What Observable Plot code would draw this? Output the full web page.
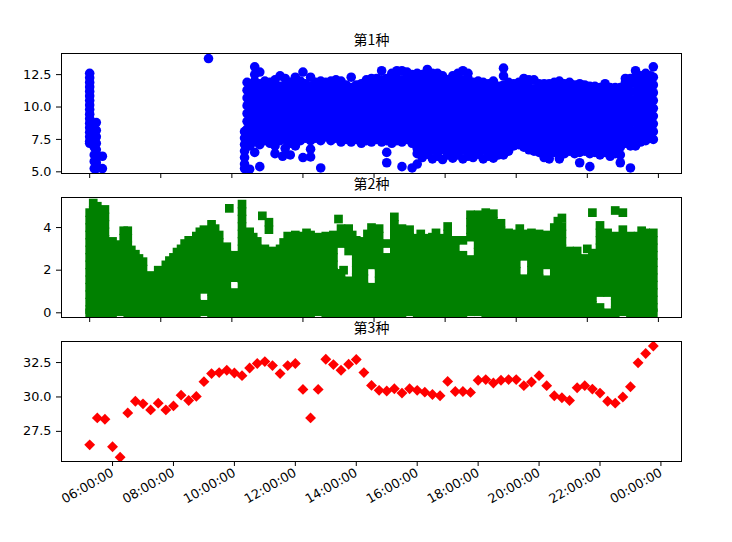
<!DOCTYPE html>
<html><head><meta charset="utf-8">
<script src="https://cdn.jsdelivr.net/npm/d3@7"></script>
<script src="https://cdn.jsdelivr.net/npm/@observablehq/plot@0.6"></script>
<style>
body{margin:0;background:#fff;}
#chart{position:relative;width:732px;height:542px;overflow:hidden;background:#fff;}
#chart svg{position:absolute;left:0;top:0;}
</style></head><body><div id="chart"></div>
<script>
const titles = ["第1种", "第2种", "第3种"];
const xDomainTimes = ["04:19:30", "24:40:30"];
const bottomTickTimes = ["06:00","08:00","10:00","12:00","14:00","16:00","18:00","20:00","22:00","24:00"];
const topTickTimes = ["05:15","07:35","09:55","12:15","14:35","16:55","19:15","21:35","23:55"];
const blueTicks = [5.0, 7.5, 10.0, 12.5];
const greenTicks = [0, 2, 4];
const redTicks = [27.5, 30.0, 32.5];
const blueDomain = [4.87, 14.13];
const greenDomain = [-0.22, 5.41];
const redDomain = [25.31, 34.03];

// 第1种: each row = time followed by the readings seen at that time
const blueRows = [
"05:15 12.6 12.25 11.9 11.55 11.2 10.85 10.5 10.15 9.8 9.45 9.1 8.75 8.4 8.05 7.7 7.35 7.2",
"05:24 7.5 6.9 6.3 5.8 5.25",
"05:28 8.8 8.2 7.7 7.2 6.7 6.2 5.7 5.25",
"05:40 6.2 5.25",
"09:09 13.74",
"10:20 8.1 7.6 7.1 6.6 6.1 5.6 5.25",
"10:25 11.9 11.3 10.7 10.1 9.5 8.9 8.3 7.8",
"10:30 11.8 11.25 10.6 10.0 9.45 8.8 8.2 7.6 7.0 5.2",
"10:40 13.1 12.5 12.0 11.4 10.85 10.3 9.7 9.1 8.5 7.9 7.3 6.5",
"10:50 12.7 11.8 11.3 10.7 10.1 9.5 8.9 8.3 7.7 7.1 5.4",
"11:00 12.0 11.55 11.0 10.4 9.8 9.2 8.6 8.0 7.4",
"11:10 11.9 11.4 10.8 10.2 9.6 9.0 8.4 7.8 7.2",
"11:20 12.1 11.7 11.1 10.5 9.9 9.3 8.7 8.1 7.5 7.0 6.4",
"11:30 12.4 11.6 11.0 10.4 9.8 9.2 8.6 8.0 7.4",
"11:35 6.2",
"11:40 12.2 11.7 11.1 10.5 9.9 9.3 8.7 8.1 7.5 6.8",
"11:50 11.9 11.4 10.8 10.2 9.6 9.0 8.4 7.8 7.2 6.3",
"12:00 12.3 11.8 11.2 10.6 10.0 9.4 8.8 8.2 7.6 7.0",
"12:10 12.0 11.6 11.0 10.4 9.8 9.2 8.6 8.0 7.4",
"12:15 12.7 6.1",
"12:20 11.8 11.2 10.6 10.0 9.4 8.8 8.2 7.6",
"12:30 12.3 11.6 11.0 10.4 9.8 9.2 8.6 8.0 7.4 6.75 6.15",
"12:40 11.9 11.2 10.6 10.0 9.4 8.8 8.2 7.6",
"12:50 12.0 11.6 11.0 10.4 9.8 9.2 8.6 8.0 7.4 5.3",
"13:00 11.9 11.3 10.7 10.1 9.5 8.9 8.3 7.7",
"13:10 12.0 11.6 11.0 10.4 9.8 9.2 8.6 8.0 7.4",
"13:20 12.1 11.8 11.2 10.6 10.0 9.4 8.8 8.2 7.6",
"13:30 12.0 11.5 10.9 10.3 9.7 9.1 8.5 7.9 7.3",
"13:40 11.7 11.1 10.5 9.9 9.3 8.7 8.1 7.5",
"13:50 12.3 11.5 10.9 10.3 9.7 9.1 8.5 7.9 7.3",
"14:00 11.7 11.1 10.5 9.9 9.3 8.7 8.1 7.5",
"14:10 11.8 11.4 10.8 10.2 9.6 9.0 8.4 7.8 7.2",
"14:20 12.1 11.6 11.0 10.4 9.8 9.2 8.6 8.0 7.4",
"14:30 12.2 11.5 10.9 10.3 9.7 9.1 8.5 7.9 7.3",
"14:40 12.2 11.7 11.1 10.5 9.9 9.3 8.7 8.1 7.5",
"14:50 12.8 12.1 11.5 10.9 10.3 9.7 9.1 8.5 7.9 7.3",
"15:00 12.2 11.6 11.0 10.4 9.8 9.2 8.6 8.0 7.4 6.5 5.7",
"15:10 12.6 12.0 11.4 10.8 10.2 9.6 9.0 8.4 7.8 7.2",
"15:20 12.8 12.2 11.6 11.0 10.4 9.8 9.2 8.6 8.0 7.4",
"15:30 12.8 12.1 11.5 10.9 10.3 9.7 9.1 8.5 7.9 7.3 5.4",
"15:40 12.7 12.3 11.7 11.1 10.5 9.9 9.3 8.7 8.1 7.5",
"15:50 12.5 12.0 11.4 10.8 10.2 9.6 9.0 8.4 7.8 7.2 5.3",
"16:00 12.6 12.2 11.6 11.0 10.4 9.8 9.2 8.6 8.0 7.4 6.8 6.4 5.6",
"16:10 12.5 12.1 11.5 10.9 10.3 9.7 9.1 8.5 7.9 7.3 6.7 6.1",
"16:20 12.9 12.2 11.6 11.0 10.4 9.8 9.2 8.6 8.0 7.4 6.8 6.35",
"16:30 12.6 12.1 11.5 10.9 10.3 9.7 9.1 8.5 7.9 7.3 6.7 6.0",
"16:40 12.6 12.2 11.6 11.0 10.4 9.8 9.2 8.6 8.0 7.4 6.8 6.2",
"16:50 12.4 12.0 11.5 10.9 10.3 9.7 9.1 8.5 7.9 7.3 6.7 5.95",
"17:00 12.1 11.6 11.0 10.4 9.8 9.2 8.6 8.0 7.4 6.8 6.3",
"17:10 12.4 12.0 11.5 10.9 10.3 9.7 9.1 8.5 7.9 7.3 6.7 6.05",
"17:20 12.6 12.2 11.6 11.0 10.4 9.8 9.2 8.6 8.0 7.4 6.8 6.3",
"17:30 12.8 12.1 11.5 10.9 10.3 9.7 9.1 8.5 7.9 7.3 6.7 6.0",
"17:40 12.6 12.2 11.6 11.0 10.4 9.8 9.2 8.6 8.0 7.4 6.8 6.2",
"17:50 11.9 11.5 10.9 10.3 9.7 9.1 8.5 7.9 7.3 6.7 6.1",
"18:00 12.0 11.6 11.0 10.4 9.8 9.2 8.6 8.0 7.4 6.8 6.35",
"18:10 11.9 11.5 10.9 10.3 9.7 9.1 8.5 7.9 7.3 6.7 6.0",
"18:20 11.8 11.4 11.0 10.4 9.8 9.2 8.6 8.0 7.4 6.8 6.2",
"18:30 12.0 11.5 10.9 10.3 9.7 9.1 8.5 7.9 7.3 6.7 6.05",
"18:40 11.6 11.0 10.4 9.8 9.2 8.6 8.0 7.4 6.8 6.3",
"18:50 13.0 12.4 11.7 11.1 10.5 9.9 9.3 8.7 8.1 7.5 6.9 6.3",
"19:00 11.9 11.4 10.8 10.2 9.6 9.0 8.4 7.8 7.2 6.6",
"19:10 11.8 11.2 10.6 10.0 9.4 8.8 8.2 7.6 7.0",
"19:20 11.9 11.3 10.7 10.1 9.5 8.9 8.3 7.7 7.1",
"19:30 12.2 11.7 11.1 10.5 9.9 9.3 8.7 8.1 7.5 6.9",
"19:40 12.1 11.5 10.9 10.3 9.7 9.1 8.5 7.9 7.3 6.7",
"19:50 12.1 11.4 10.8 10.2 9.6 9.0 8.4 7.8 7.2 6.6",
"20:00 11.8 11.3 10.7 10.1 9.5 8.9 8.3 7.7 7.1 6.5",
"20:10 11.8 11.5 10.9 10.3 9.7 9.1 8.5 7.9 7.3 6.7 6.1",
"20:20 11.8 11.4 10.8 10.2 9.6 9.0 8.4 7.8 7.2 6.6 6.0",
"20:30 11.9 11.3 10.7 10.1 9.5 8.9 8.3 7.7 7.1 6.5",
"20:40 12.0 11.4 10.8 10.2 9.6 9.0 8.4 7.8 7.2 6.6 6.0",
"20:50 11.8 11.2 10.6 10.0 9.4 8.8 8.2 7.6 7.0 6.4",
"21:00 11.9 11.4 10.8 10.2 9.6 9.0 8.4 7.8 7.2 6.6",
"21:10 11.7 11.2 10.6 10.0 9.4 8.8 8.2 7.6 7.0 6.4",
"21:20 11.8 11.3 10.7 10.1 9.5 8.9 8.3 7.7 7.1 6.5 5.7",
"21:30 11.7 11.4 10.8 10.2 9.6 9.0 8.4 7.8 7.2 6.6",
"21:40 11.6 11.2 10.6 10.0 9.4 8.8 8.2 7.6 7.0 6.4 5.4",
"21:50 11.6 11.3 10.7 10.1 9.5 8.9 8.3 7.7 7.1 6.5",
"22:00 11.5 11.1 10.5 9.9 9.3 8.7 8.1 7.5 6.9 6.3",
"22:10 11.8 11.3 10.7 10.1 9.5 8.9 8.3 7.7 7.1 6.5",
"22:20 11.5 11.0 10.4 9.8 9.2 8.6 8.0 7.4 6.8 6.2",
"22:30 11.5 11.2 10.6 10.0 9.4 8.8 8.2 7.6 7.0 6.4",
"22:40 11.5 11.1 10.5 9.9 9.3 8.7 8.1 7.5 6.9 6.3 5.7",
"22:50 12.2 11.9 11.4 10.8 10.2 9.6 9.0 8.4 7.8 7.2",
"23:00 12.2 11.8 11.2 10.6 10.0 9.4 8.8 8.2 7.6 7.0 5.3",
"23:10 12.8 12.3 11.8 11.2 10.6 10.0 9.4 8.8 8.2 7.6 7.0",
"23:20 12.4 12.1 11.5 10.9 10.3 9.7 9.1 8.5 7.9 7.3",
"23:30 12.6 12.2 11.6 11.0 10.4 9.8 9.2 8.6 8.0 7.4",
"23:40 12.4 11.8 11.2 10.6 10.0 9.4 8.8 8.2 7.6",
"23:45 13.1 12.3 11.7 11.1 10.5 9.9 9.3 8.7 8.1 7.5"
];

// 第2种
const greenRows = [
"05:15 4.7 4.35 4.0 3.65 3.3 2.95 2.6 2.25 1.9 1.55 1.2 0.85 0.5 0.15 0.0",
"05:22 5.15 4.8 4.45 4.1 3.75 3.4 3.05 2.7 2.35 2.0 1.65 1.3 0.95 0.6 0.25 0.0",
"05:30 5.0 4.65 4.3 3.95 3.6 3.25 2.9 2.55 2.2 1.85 1.5 1.15 0.8 0.45 0.1 0.0",
"05:45 4.85 4.5 4.15 3.8 3.45 3.1 2.75 2.4 2.05 1.7 1.35 1.0 0.65 0.3 0.0",
"06:00 3.35 3.0 2.65 2.3 1.95 1.6 1.25 0.9 0.55 0.2 0.0",
"06:07 3.1 2.75",
"06:15 3.2 2.85 2.5 2.15 1.8 1.45 1.1 0.75 0.4 0.05",
"06:22 3.85 3.5",
"06:30 3.85 3.5 3.15 2.8 2.45 2.1 1.75 1.4 1.05 0.7 0.35 0.0",
"06:37 2.95 2.6",
"06:45 2.75 2.4 2.05 1.7 1.35 1.0 0.65 0.3 0.0",
"06:52 2.55",
"07:00 2.4 2.05 1.7 1.35 1.0 0.65 0.3 0.0",
"07:15 1.75 1.4 1.05 0.7 0.35 0.0",
"07:30 2.0 1.65 1.3 0.95 0.6 0.25 0.0",
"07:45 2.25 1.9 1.55 1.2 0.85 0.5 0.15 0.0",
"07:52 2.45",
"08:00 2.6 2.25 1.9 1.55 1.2 0.85 0.5 0.15 0.0",
"08:07 2.85",
"08:15 3.0 2.65 2.3 1.95 1.6 1.25 0.9 0.55 0.2 0.0",
"08:22 3.25",
"08:30 3.4 3.05 2.7 2.35 2.0 1.65 1.3 0.95 0.6 0.25 0.0",
"08:45 3.6 3.25 2.9 2.55 2.2 1.85 1.5 1.15 0.8 0.45 0.1 0.0",
"08:52 3.8",
"09:00 3.9 3.55 3.2 2.85 2.5 2.15 1.8 1.45 1.1 0.4 0.05",
"09:15 4.15 3.8 3.45 3.1 2.75 2.4 2.05 1.7 1.35 1.0 0.65 0.3 0.0",
"09:22 3.95",
"09:30 3.65 3.3 2.95 2.6 2.25 1.9 1.55 1.2 0.85 0.5 0.15 0.0",
"09:45 3.1 2.75 2.4 2.05 1.7 1.35 1.0 0.65 0.3 0.0",
"09:50 4.9",
"10:00 2.7 2.35 2.0 1.65 0.95 0.6 0.25 0.0",
"10:15 5.1 4.75 4.4 4.05 3.7 3.35 3.0 2.65 2.3 1.95 1.6 1.25 0.9 0.55 0.2 0.0",
"10:22 3.6 3.25",
"10:30 3.8 3.45 3.1 2.75 2.4 2.05 1.7 1.35 1.0 0.65 0.3 0.0",
"10:37 3.55",
"10:45 3.35 3.0 2.65 2.3 1.95 1.6 1.25 0.9 0.55 0.2 0.0",
"10:55 4.55",
"11:00 3.0 2.65 2.3 1.95 1.6 1.25 0.9 0.55 0.2 0.0",
"11:08 4.25 3.9",
"11:15 2.9 2.55 2.2 1.85 1.5 1.15 0.8 0.45 0.1 0.0",
"11:30 3.0 2.65 2.3 1.95 1.6 1.25 0.9 0.55 0.2 0.0",
"11:37 3.3",
"11:45 3.6 3.25 2.9 2.55 2.2 1.85 1.5 1.15 0.8 0.45 0.1 0.0",
"12:00 3.65 3.3 2.95 2.6 2.25 1.9 1.55 1.2 0.85 0.5 0.15 0.0",
"12:15 3.6 3.25 2.9 2.55 2.2 1.85 1.5 1.15 0.8 0.45 0.1 0.0",
"12:22 3.75",
"12:30 3.65 3.3 2.95 2.6 2.25 1.9 1.55 1.2 0.85 0.5 0.15 0.0",
"12:45 3.55 3.2 2.85 2.5 2.15 1.8 1.45 1.1 0.75 0.4 0.05",
"13:00 3.6 3.25 2.9 2.55 2.2 1.85 1.5 1.15 0.8 0.45 0.1 0.0",
"13:15 3.65 3.3 2.95 2.6 2.25 1.9 1.55 1.2 0.85 0.5 0.15 0.0",
"13:25 4.4",
"13:30 3.95 3.6 3.25 1.85 1.5 1.15 0.8 0.45 0.1 0.0",
"13:35 2.0",
"13:45 3.95 3.6 3.25 2.9 1.5 1.15 0.8 0.45 0.1 0.0",
"13:52 3.65",
"14:00 3.4 3.05 2.7 2.35 2.0 1.65 1.3 0.95 0.6 0.25 0.0",
"14:15 3.35 3.0 2.65 2.3 1.95 1.6 1.25 0.9 0.55 0.2 0.0",
"14:22 3.7",
"14:30 4.0 3.65 3.3 2.95 2.6 2.25 1.2 0.85 0.5 0.15 0.0",
"14:45 3.95 3.6 3.25 2.9 2.55 2.2 1.85 1.5 1.15 0.8 0.45 0.1 0.0",
"15:00 3.25 2.6 2.25 1.9 1.55 1.2 0.85 0.5 0.15 0.0",
"15:15 4.5 4.15 3.8 3.45 3.1 2.75 2.4 2.05 1.7 1.35 1.0 0.65 0.3 0.0",
"15:30 3.95 3.6 3.25 2.9 2.55 2.2 1.85 1.5 1.15 0.8 0.45 0.1 0.0",
"15:45 3.9 3.55 3.2 2.85 2.5 2.15 1.8 1.45 1.1 0.75 0.4 0.05",
"16:00 3.5 3.15 2.8 2.45 2.1 1.75 1.4 1.05 0.7 0.35 0.0",
"16:07 3.7",
"16:15 3.5 3.15 2.8 2.45 2.1 1.75 1.4 1.05 0.7 0.35 0.0",
"16:30 3.55 3.2 2.85 2.5 2.15 1.8 1.45 1.1 0.75 0.4 0.05 0.0",
"16:37 3.75",
"16:45 3.5 3.15 2.8 2.45 2.1 1.75 1.4 1.05 0.7 0.35 0.0",
"17:00 4.05 3.7 3.35 3.0 2.65 2.3 1.95 1.6 1.25 0.9 0.55 0.2 0.0",
"17:15 3.4 3.05 2.7 2.35 2.0 1.65 1.3 0.95 0.6 0.25 0.0",
"17:30 3.4 2.7 2.35 2.0 1.65 1.3 0.95 0.6 0.25 0.0",
"17:45 4.6 4.25 3.9 3.55 2.5 2.15 1.8 1.45 1.1 0.75 0.4 0.05",
"18:00 4.6 4.25 3.9 3.55 3.2 2.85 2.5 2.15 1.8 1.45 1.1 0.75 0.4 0.05",
"18:15 4.7 4.35 4.0 3.65 3.3 2.95 2.6 2.25 1.9 1.55 1.2 0.85 0.5 0.15 0.0",
"18:30 4.65 4.3 3.95 3.6 3.25 2.9 2.55 2.2 1.85 1.5 1.15 0.8 0.45 0.1 0.0",
"18:45 4.2 3.85 3.5 3.15 2.8 2.45 2.1 1.75 1.4 1.05 0.7 0.35 0.0",
"19:00 3.75 3.4 3.05 2.7 2.35 2.0 1.65 1.3 0.95 0.6 0.25 0.0",
"19:15 3.7 3.35 3.0 2.65 2.3 1.95 1.6 1.25 0.9 0.55 0.2 0.0",
"19:22 3.95",
"19:30 3.7 3.35 3.0 2.65 1.6 1.25 0.9 0.55 0.2 0.0",
"19:45 3.75 3.4 3.05 2.7 2.35 2.0 1.65 1.3 0.95 0.6 0.25 0.0",
"19:52 3.5",
"20:00 3.7 3.35 3.0 2.65 2.3 1.95 1.6 1.25 0.9 0.55 0.2 0.0",
"20:15 3.65 3.3 2.95 2.6 2.25 1.55 1.2 0.85 0.5 0.15 0.0",
"20:30 4.0 3.65 3.3 2.95 2.6 2.25 1.9 1.55 1.2 0.85 0.5 0.15 0.0",
"20:37 4.3",
"20:45 4.45 4.05 3.7 3.35 3.0 2.65 2.3 1.95 1.6 1.25 0.9 0.55 0.2 0.0",
"21:00 2.9 2.55 2.2 1.85 1.5 1.15 0.8 0.45 0.1 0.0",
"21:15 2.9 2.55 2.2 1.85 1.5 1.15 0.8 0.45 0.1 0.0",
"21:30 2.55 2.2 1.85 1.5 1.15 0.8 0.45 0.1 0.0",
"21:35 3.0",
"21:45 4.7 2.8 2.45 2.1 1.75 1.4 1.05 0.7 0.35 0.0",
"22:00 4.1 3.75 3.4 3.05 2.7 2.35 2.0 1.65 1.3 0.95 0.25 0.0",
"22:15 3.75 3.4 3.05 2.7 2.35 2.0 1.65 1.3 0.95 0.0",
"22:30 4.8 3.6 3.25 2.9 2.55 2.2 1.85 1.5 1.15 0.8 0.45 0.1 0.0",
"22:45 4.7 3.9 3.55 3.2 2.85 2.5 2.15 1.8 1.45 1.1 0.75 0.4 0.05",
"23:00 3.6 3.25 2.9 2.55 2.2 1.85 1.5 1.15 0.8 0.45 0.1 0.0",
"23:15 3.6 3.25 2.9 2.55 2.2 1.85 1.5 1.15 0.8 0.45 0.1 0.0",
"23:22 3.85",
"23:30 3.75 3.4 3.05 2.7 2.35 2.0 1.65 1.3 0.95 0.6 0.25 0.0",
"23:45 3.75 3.4 3.05 2.7 2.35 2.0 1.65 1.3 0.95 0.6 0.25 0.0"
];

// 第3种: one reading every 15 minutes from 05:15 to 23:45
const redStart = "05:15";
const redStepMinutes = 15;
const redValues = [26.52, 28.48, 28.38, 26.38, 25.62, 28.84, 29.69, 29.5, 29.06, 29.55,
  29.06, 29.35, 30.13, 29.74, 30.04, 31.11, 31.7, 31.77, 31.94, 31.74,
  31.55, 32.1, 32.43, 32.57, 32.28, 31.7, 32.28, 32.43, 30.55, 28.48,
  30.55, 32.74, 32.35, 31.94, 32.38, 32.72, 31.77, 30.84, 30.48, 30.43,
  30.6, 30.28, 30.6, 30.48, 30.35, 30.18, 30.09, 31.13, 30.4, 30.4,
  30.33, 31.21, 31.26, 31.01, 31.21, 31.26, 31.26, 30.82, 31.09, 31.55,
  30.82, 30.09, 29.94, 29.74, 30.67, 30.82, 30.57, 30.28, 29.69, 29.55,
  30.0, 30.74, 32.48, 33.16, 33.7];

const parseT = s => { const [h, m, sec = 0] = s.split(":").map(Number); return new Date(Date.UTC(2019, 0, 1, h, m, sec)); };
function rowsToPoints(rows) {
  const pts = [];
  for (const r of rows) {
    const [t, ...vs] = r.trim().split(/\s+/);
    const d = parseT(t);
    for (const v of vs) pts.push({t: d, v: +v});
  }
  return pts;
}
const blueData = rowsToPoints(blueRows);
const greenData = rowsToPoints(greenRows);
const red0 = parseT(redStart).getTime();
const redData = redValues.map((v, i) => ({t: new Date(red0 + i * redStepMinutes * 60000), v}));

const W = 732, H = 542;
const xDomain = xDomainTimes.map(parseT);
const fmt1 = d3.format(".1f");
const tickFont = "'DejaVu Sans', sans-serif";
const tickFontSize = 12.8;

const panels = [
  {title: titles[0], data: blueData, yDomain: blueDomain, yTicks: blueTicks, yFmt: fmt1, symbol: "circle", r: 4.8, color: "#0000ff", top: 53, bottom: 173, xTicks: topTickTimes, labels: false},
  {title: titles[1], data: greenData, yDomain: greenDomain, yTicks: greenTicks, yFmt: d3.format("d"), symbol: "square", r: 4.9, color: "#008000", top: 197, bottom: 317, xTicks: topTickTimes, labels: false},
  {title: titles[2], data: redData, yDomain: redDomain, yTicks: redTicks, yFmt: fmt1, symbol: "diamond2", r: 4.9, color: "#ff0000", top: 341, bottom: 461, xTicks: bottomTickTimes, labels: true}
];

const chart = document.getElementById("chart");
for (const p of panels) {
  const svg = Plot.plot({
    width: W, height: H,
    marginLeft: 61, marginRight: 51, marginTop: p.top, marginBottom: H - p.bottom,
    style: {background: "transparent", fontFamily: tickFont, color: "black", overflow: "visible"},
    x: {type: "utc", domain: xDomain},
    y: {domain: p.yDomain},
    marks: [
      Plot.dot(p.data, {x: "t", y: "v", r: p.r, symbol: p.symbol, fill: p.color, stroke: "none", clip: true}),
      Plot.frame({stroke: "black"}),
      Plot.axisY({ticks: p.yTicks, tickFormat: p.yFmt, tickSize: 5, tickPadding: 5, label: null, fontSize: tickFontSize, fontFamily: tickFont}),
      p.labels
        ? Plot.axisX({ticks: p.xTicks.map(parseT), tickFormat: d3.utcFormat("%H:%M:%S"), tickSize: 5, tickPadding: 5, tickRotate: -30, textAnchor: "end", label: null, fontSize: tickFontSize, fontFamily: tickFont})
        : Plot.axisX({ticks: p.xTicks.map(parseT), tickFormat: () => "", tickSize: 5, label: null}),
      Plot.text([p.title], {frameAnchor: "top", dy: -18, fontFamily: "'Noto Sans CJK SC', sans-serif", fontSize: 14, fill: "black"})
    ]
  });
  chart.appendChild(svg);
}
</script>
</body></html>
